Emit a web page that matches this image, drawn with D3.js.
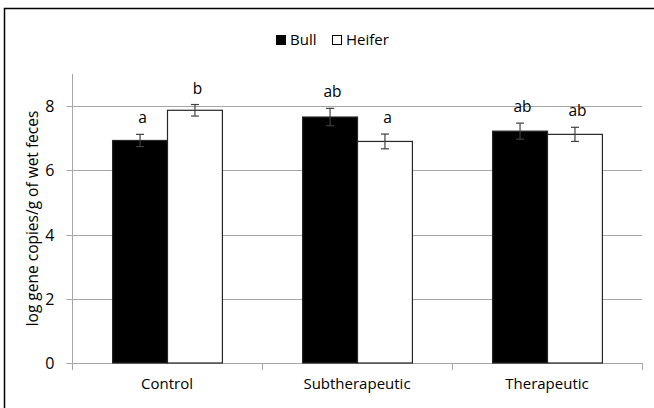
<!DOCTYPE html>
<html><head><meta charset="utf-8">
<script src="https://cdn.jsdelivr.net/npm/d3@7"></script>
<style>body{margin:0;background:#fff}svg{display:block}</style>
</head><body>
<svg id="c" width="654" height="408"></svg>
<script>
const categories = ["Control", "Subtherapeutic", "Therapeutic"];
const seriesNames = ["Bull", "Heifer"];
const bullValues = [6.93, 7.66, 7.22];
const heiferValues = [7.87, 6.90, 7.12];
const bullErrors = [0.19, 0.27, 0.25];
const heiferErrors = [0.18, 0.23, 0.22];
const bullLetters = ["a", "ab", "ab"];
const heiferLetters = ["b", "a", "ab"];
const yTicks = [0, 2, 4, 6, 8];
const yTitle = "log gene copies/g of wet feces";

(function(){
const font = "'Open Sans', sans-serif";
const svg = d3.select("#c");
const pL = 72, pR = 642, pT = 74, pB = 363;

const x0 = d3.scaleBand().domain(categories).range([pL, pR]).paddingInner(0).paddingOuter(0);
const x1 = d3.scaleBand().domain(seriesNames).range([0, x0.bandwidth()]).paddingOuter(0.73).paddingInner(0);
const y = d3.scaleLinear().domain([0, 9]).range([pB, pT]);

// outer frame (left and top)
svg.append("path").attr("d", `M4.5,408 L4.5,8.5 L654,8.5`).attr("fill","none").attr("stroke","#000").attr("stroke-width",1.5);

// gridlines
svg.append("g").selectAll("line").data(yTicks.filter(d=>d>0)).join("line")
  .attr("x1", pL).attr("x2", pR).attr("y1", d=>Math.round(y(d))+0.5).attr("y2", d=>Math.round(y(d))+0.5)
  .attr("stroke", "#a6a6a6").attr("stroke-width", 1);

// y axis
const yAxis = svg.append("g").attr("transform", `translate(${pL+0.5},0)`)
  .call(d3.axisLeft(y).tickValues(yTicks).tickSize(6).tickPadding(12).tickFormat(d3.format("d")));
yAxis.select(".domain").attr("stroke", "#a6a6a6").attr("d", `M0,${pT}V${pB}`);
yAxis.selectAll(".tick line").attr("stroke", "#a6a6a6");
yAxis.selectAll(".tick").attr("transform", d=>`translate(0,${Math.round(y(d))+0.5})`);
yAxis.selectAll("text").attr("font-family", font).attr("font-size", 16).attr("fill", "#000");

// x axis
const bounds = [pL, ...categories.map(c => x0(c) + x0.bandwidth())];
const xg = svg.append("g");
xg.append("line").attr("x1", pL).attr("x2", pR).attr("y1", Math.round(y(0))+0.5).attr("y2", Math.round(y(0))+0.5).attr("stroke","#a6a6a6");
xg.selectAll("line.t").data(bounds).join("line").attr("class","t")
  .attr("x1", d=>Math.round(d)+0.5).attr("x2", d=>Math.round(d)+0.5)
  .attr("y1", Math.round(y(0))).attr("y2", Math.round(y(0))+7).attr("stroke","#a6a6a6");
xg.selectAll("text").data(categories).join("text")
  .attr("x", d=>x0(d)+x0.bandwidth()/2).attr("y", pB+26)
  .attr("text-anchor","middle").attr("font-family", font).attr("font-size", 15).attr("fill","#000").text(d=>d);

// y title
svg.append("text").attr("transform", `translate(38,${(pT+pB)/2}) rotate(-90)`)
  .attr("text-anchor","middle").attr("font-family", font).attr("font-size", 15.5).attr("fill","#000").text(yTitle);

// bars
const rows = [];
categories.forEach((c,i)=>{
  rows.push({c, s:"Bull", v:bullValues[i], e:bullErrors[i], l:bullLetters[i]});
  rows.push({c, s:"Heifer", v:heiferValues[i], e:heiferErrors[i], l:heiferLetters[i]});
});
const bars = svg.append("g");
bars.selectAll("rect").data(rows).join("rect")
  .attr("x", d=>x0(d.c)+x1(d.s)+0.5).attr("width", x1.bandwidth())
  .attr("y", d=>y(d.v)).attr("height", d=>y(0)-y(d.v))
  .attr("fill", d=>d.s==="Bull" ? "#000" : "#fff")
  .attr("stroke", "#262626").attr("stroke-width", 1.2);

// error bars
const eb = svg.append("g").attr("stroke", "#404040").attr("stroke-width", 1.2);
rows.forEach(d=>{
  const cx = x0(d.c)+x1(d.s)+x1.bandwidth()/2+0.5;
  eb.append("line").attr("x1",cx).attr("x2",cx).attr("y1",y(d.v+d.e)).attr("y2",y(d.v-d.e));
  eb.append("line").attr("x1",cx-4).attr("x2",cx+4).attr("y1",y(d.v+d.e)).attr("y2",y(d.v+d.e));
  eb.append("line").attr("x1",cx-4).attr("x2",cx+4).attr("y1",y(d.v-d.e)).attr("y2",y(d.v-d.e));
});

// significance letters
svg.append("g").selectAll("text").data(rows).join("text")
  .attr("x", d=>x0(d.c)+x1(d.s)+x1.bandwidth()/2+3)
  .attr("y", d=>y(d.v+d.e)-11)
  .attr("text-anchor","middle").attr("font-family", font).attr("font-size", 15.5).attr("fill","#000").text(d=>d.l);

// legend
const lg = svg.append("g");
const legX = [276, 332];
seriesNames.forEach((s,i)=>{
  lg.append("rect").attr("x", legX[i]+0.5).attr("y", 35.5).attr("width", 9).attr("height", 9)
    .attr("fill", i===0 ? "#000" : "#fff").attr("stroke", "#000").attr("stroke-width", 1);
  lg.append("text").attr("x", legX[i]+14).attr("y", 45).attr("font-family", font).attr("font-size", 15).attr("fill","#000").text(s);
});
})();
</script>
</body></html>
